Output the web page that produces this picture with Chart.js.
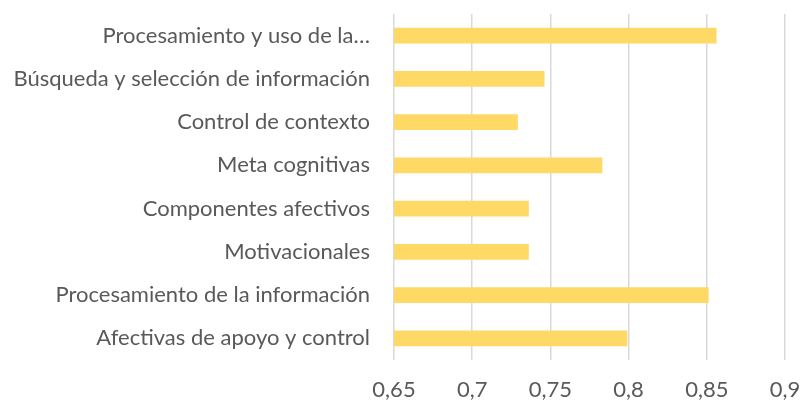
<!DOCTYPE html>
<html>
<head>
<meta charset="utf-8">
<script src="https://cdn.jsdelivr.net/npm/chart.js@4"></script>
<style>
  html, body { margin: 0; padding: 0; background: #fff; }
  #wrap { width: 801px; height: 401px; }
</style>
</head>
<body>
<div id="wrap"><canvas id="barChart" width="801" height="401"></canvas></div>
<script>
const categories = [
    'Procesamiento y uso de la…',
    'Búsqueda y selección de información',
    'Control de contexto',
    'Meta cognitivas',
    'Componentes afectivos',
    'Motivacionales',
    'Procesamiento de la información',
    'Afectivas de apoyo y control'
];
const values = [0.856, 0.746, 0.729, 0.783, 0.736, 0.736, 0.851, 0.799];
const axisMin = 0.65;
const axisMax = 0.9;
const axisStep = 0.05;

document.addEventListener('DOMContentLoaded', () => {
    const ctx = document.getElementById('barChart').getContext('2d');

    new Chart(ctx, {
        type: 'bar',
        data: {
            labels: categories,
            datasets: [{
                data: values,
                backgroundColor: '#FFD966',
                borderWidth: 0,
                barThickness: 15
            }]
        },
        options: {
            indexAxis: 'y',
            responsive: false,
            animation: false,
            layout: { padding: { top: 14, right: 16, left: 0, bottom: 0 } },
            plugins: {
                legend: { display: false },
                tooltip: { enabled: false }
            },
            scales: {
                x: {
                    min: axisMin,
                    max: axisMax,
                    border: { display: false },
                    grid: { color: '#d9d9d9', lineWidth: 1.5, drawTicks: false },
                    ticks: {
                        stepSize: axisStep,
                        padding: 17,
                        color: '#595959',
                        font: { family: 'Lato', size: 22 },
                        callback: v => Number(v.toFixed(2)).toString().replace('.', ',')
                    },
                    afterFit: axis => {
                        axis.height = 41;
                        axis.paddingLeft = 0;
                        axis.paddingRight = 0;
                    }
                },
                y: {
                    border: { display: false },
                    grid: { display: false, drawTicks: false },
                    ticks: {
                        padding: 24,
                        color: '#595959',
                        font: { family: 'Lato', size: 22 }
                    },
                    afterFit: axis => {
                        axis.width = 394;
                        axis.paddingTop = 0;
                        axis.paddingBottom = 0;
                    }
                }
            }
        }
    });
});
</script>
</body>
</html>
